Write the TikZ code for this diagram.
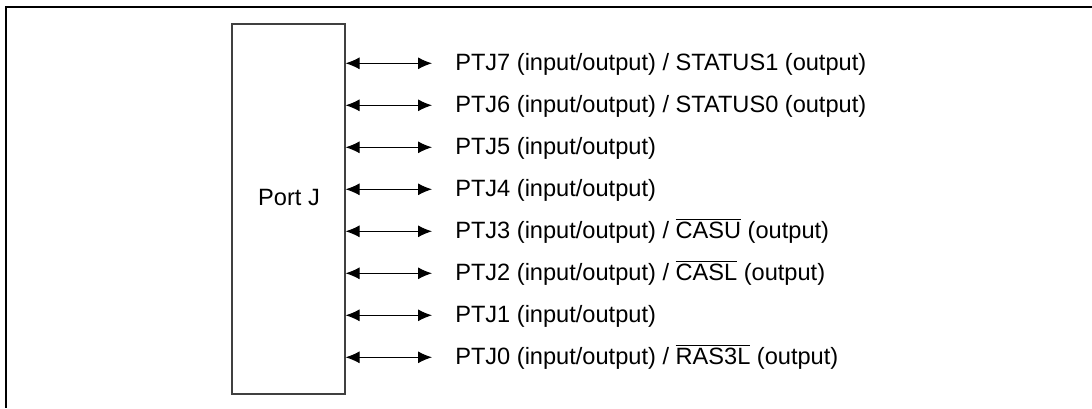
\documentclass[tikz,border=0pt]{standalone}
\usepackage{fontspec}
\setmainfont{Liberation Sans}
\usetikzlibrary{arrows.meta}
\newcommand\ovl[1]{\ensuremath{\overline{\hbox{#1}}}}
\begin{document}
\begin{tikzpicture}[x=0.75pt,y=-0.75pt,
  lbl/.style={font=\fontsize{17.7}{21}\selectfont, inner sep=0pt, anchor=base west},
  frame/.style={line width=1.5pt, black},
  portbox/.style={draw=black!75, line width=0.8pt, minimum width=84.75pt, minimum height=277.5pt, inner sep=0pt},
  bidir/.style={line width=0.8pt, {Latex[length=10.5pt,width=9pt]}-{Latex[length=10.5pt,width=9pt]}}]
\useasboundingbox (0,0) rectangle (1092,408);
\draw[frame] (1092,7) -- (6,7) -- (6,408);
\node[portbox] (port) at (288.5,209) {};
\node[font=\fontsize{17.7}{21}\selectfont, inner sep=0pt, anchor=base] (portlbl) at (289,205.7) {Port J};
\foreach \i/\txt in {0/{PTJ7 (input/output) / STATUS1 (output)},
                     1/{PTJ6 (input/output) / STATUS0 (output)},
                     2/{PTJ5 (input/output)},
                     3/{PTJ4 (input/output)},
                     4/{PTJ3 (input/output) / \ovl{CASU} (output)},
                     5/{PTJ2 (input/output) / \ovl{CASL} (output)},
                     6/{PTJ1 (input/output)},
                     7/{PTJ0 (input/output) / \ovl{RAS3L} (output)}}{
  \coordinate (c\i) at (432,63.3+42*\i);
  \node[lbl] (t\i) at (455,70+42*\i) {\txt};
  \draw[bidir] (port.east |- c\i) -- (c\i);
}
\end{tikzpicture}
\end{document}
